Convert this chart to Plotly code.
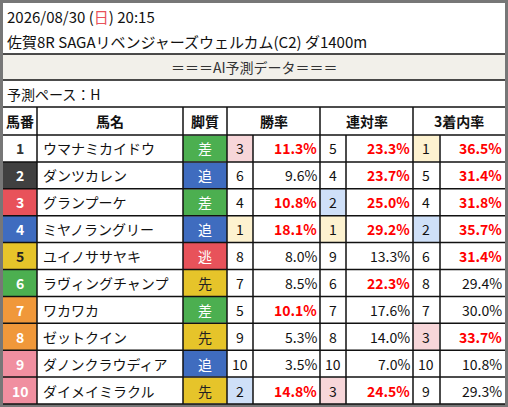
import plotly.graph_objects as go

title1 = "2026/08/30 (<span style='color:#e8525a'>日</span>) 20:15"
title2 = "佐賀8R SAGAリベンジャーズウェルカム(C2) ダ1400m"
banner = "＝＝＝AI予測データ＝＝＝"
pace = "予測ペース：H"
headers = ["馬番", "馬名", "脚質", "勝率", "連対率", "3着内率"]
nums = [1, 2, 3, 4, 5, 6, 7, 8, 9, 10]
names = ["ウマナミカイドウ", "ダンツカレン", "グランプーケ", "ミヤノラングリー", "ユイノササヤキ",
         "ラヴィングチャンプ", "ワカワカ", "ゼットクイン", "ダノンクラウディア", "ダイメイミラクル"]
styles = ["差", "追", "差", "追", "逃", "先", "差", "先", "追", "先"]
win_rank = [3, 6, 4, 1, 8, 7, 5, 9, 10, 2]
win = [11.3, 9.6, 10.8, 18.1, 8.0, 8.5, 10.1, 5.3, 3.5, 14.8]
ren_rank = [5, 4, 2, 1, 9, 6, 7, 8, 10, 3]
ren = [23.3, 23.7, 25.0, 29.2, 13.3, 22.3, 17.6, 14.0, 7.0, 24.5]
fuku_rank = [1, 5, 4, 2, 6, 8, 7, 3, 10, 9]
fuku = [36.5, 31.4, 31.8, 35.7, 31.4, 29.4, 30.0, 33.7, 10.8, 29.3]

num_bg = {1: "#ffffff", 2: "#404040", 3: "#e8525a", 4: "#3f6cbf", 5: "#e6c42a", 6: "#4caf50",
          7: "#f0983a", 8: "#f0983a", 9: "#f08fa0", 10: "#f08fa0"}
num_fg = {1: "#333333", 5: "#222222"}
style_bg = {"差": "#4caf50", "追": "#3f6cbf", "逃": "#e8525a", "先": "#e6c42a"}
rank_bg = {1: "#fdf2d0", 2: "#cfe0f8", 3: "#f7d6d9"}

FONT = "Noto Sans CJK JP"
fig = go.Figure()
shapes, ann = [], []

def rect(x0, y0, x1, y1, fill, line=None, w=0):
    shapes.append(dict(type="rect", x0=x0, y0=y0, x1=x1, y1=y1, fillcolor=fill,
                       line=dict(color=line or fill, width=w), layer="below"))

def hline(y, x0=3, x1=505):
    shapes.append(dict(type="line", x0=x0, x1=x1, y0=y, y1=y, line=dict(color="#111", width=1.5)))

def vline(x, y0, y1):
    shapes.append(dict(type="line", x0=x, x1=x, y0=y0, y1=y1, line=dict(color="#111", width=1.5)))

def text(x, y, t, size=14, color="#111", anchor="center", bold=False):
    if bold:
        t = "<b>" + t + "</b>"
    ann.append(dict(x=x, y=y, text=t, showarrow=False, xanchor=anchor, yanchor="middle",
                    font=dict(family=FONT, size=size, color=color)))

rect(0, 0, 508, 407, "#777777")
rect(3, 3, 505, 404, "#ffffff")
rect(3, 54, 505, 80, "#f2f0ea")
text(5, 16, title1, size=15, anchor="left")
text(5, 41, title2, size=15, anchor="left")
text(254, 67, banner, color="#333")
text(5, 94, pace, anchor="left")
hline(54); hline(80); hline(107)

cols = [3, 37, 183, 227, 320, 413, 505]
HT, H0, RH = 107, 135, 26.9
for i, h in enumerate(headers):
    text((cols[i] + cols[i + 1]) / 2, (HT + H0) / 2, h, bold=True)
hline(H0)
for i in range(len(nums)):
    y0 = H0 + i * RH; y1 = y0 + RH; yc = (y0 + y1) / 2
    n = nums[i]
    rect(3, y0, 37, y1, num_bg[n])
    text(20, yc, str(n), color=num_fg.get(n, "#ffffff"), bold=True)
    text(41, yc, names[i], anchor="left")
    rect(183, y0 + 0.5, 227, y1 - 0.5, style_bg[styles[i]])
    text(205, yc, styles[i], color="#222" if styles[i] == "先" else "#ffffff")
    for (xr, xp, rk, val, th) in [(227, 320, win_rank[i], win[i], 10),
                                  (320, 413, ren_rank[i], ren[i], 20),
                                  (413, 505, fuku_rank[i], fuku[i], 30.05)]:
        if rk in rank_bg:
            rect(xr, y0, xr + 26, y1, rank_bg[rk])
        text(xr + 13, yc, str(rk))
        hot = val > th
        text(xp - 1, yc, f"{val:.1f}%", anchor="right", color="#ff0000" if hot else "#111", bold=hot)
    if i < len(nums) - 1:
        hline(y1)
hline(404)
for x in [37, 183, 227, 320, 413]:
    vline(x, HT, 404)
for x in [253, 346, 440]:
    vline(x, H0, 404)

fig.update_layout(width=508, height=407, margin=dict(l=0, r=0, t=0, b=0),
                  plot_bgcolor="white", paper_bgcolor="white", shapes=shapes, annotations=ann,
                  xaxis=dict(range=[0, 508], visible=False, fixedrange=True),
                  yaxis=dict(range=[407, 0], visible=False, fixedrange=True), showlegend=False)
fig.write_html("out.html", config={"displayModeBar": False},
               post_script="document.body.style.margin='0';document.body.style.overflow='hidden';")
